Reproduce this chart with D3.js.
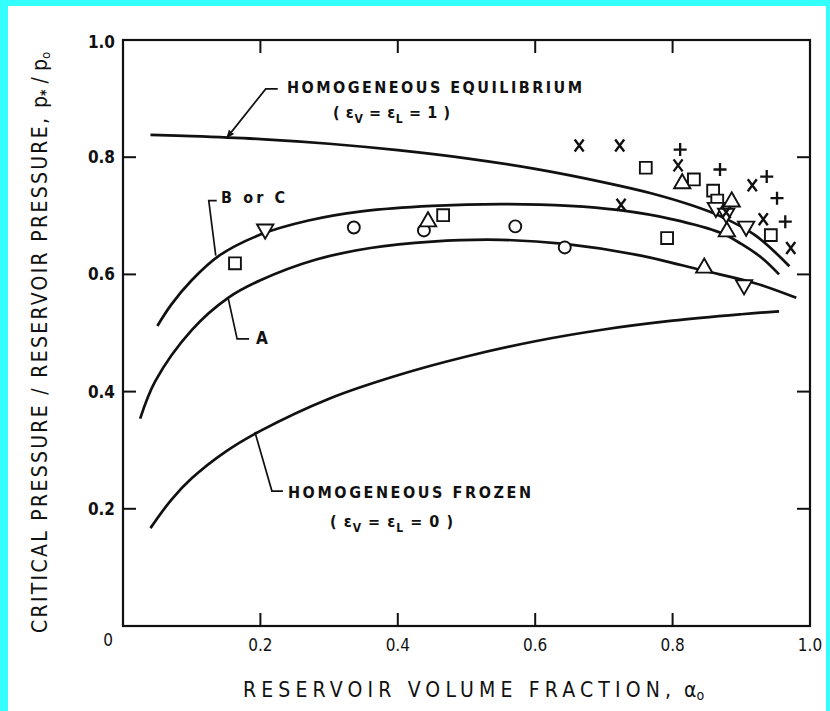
<!DOCTYPE html>
<html>
<head>
<meta charset="utf-8">
<script src="https://cdn.jsdelivr.net/npm/d3@7"></script>
<style>
  body { margin: 0; background: #33ffff; }
  svg { display: block; }
  text { font-family: "Liberation Sans Narrow", "DejaVu Sans Condensed", "DejaVu Sans", sans-serif; fill: #111; }
</style>
</head>
<body>
<div id="chart"></div>
<script>
// curves (alpha_o, p*/p_o)
var eqAlpha = [0.04, 0.1, 0.2, 0.3, 0.4, 0.5, 0.6, 0.7, 0.77, 0.83, 0.87, 0.92, 0.97];
var eqP     = [0.838, 0.836, 0.831, 0.823, 0.812, 0.798, 0.780, 0.757, 0.738, 0.717, 0.699, 0.667, 0.614];

var bcAlpha = [0.05, 0.07, 0.1, 0.14, 0.2, 0.27, 0.35, 0.45, 0.55, 0.65, 0.72, 0.8, 0.87, 0.9, 0.93, 0.955];
var bcP     = [0.512, 0.548, 0.59, 0.632, 0.668, 0.692, 0.708, 0.717, 0.72, 0.717, 0.71, 0.694, 0.671, 0.652, 0.628, 0.60];

var aAlpha = [0.025, 0.047, 0.1, 0.153, 0.2, 0.28, 0.36, 0.45, 0.55, 0.643, 0.75, 0.843, 0.92, 0.98];
var aP     = [0.354, 0.418, 0.505, 0.56, 0.59, 0.625, 0.645, 0.656, 0.659, 0.652, 0.633, 0.607, 0.585, 0.56];

var frAlpha = [0.04, 0.07, 0.1, 0.15, 0.2, 0.3, 0.4, 0.5, 0.6, 0.7, 0.8, 0.9, 0.955];
var frP     = [0.167, 0.215, 0.252, 0.298, 0.333, 0.388, 0.428, 0.460, 0.486, 0.506, 0.521, 0.532, 0.537];

// experimental points
var squares = [[0.163, 0.619], [0.466, 0.701], [0.761, 0.782], [0.831, 0.762], [0.859, 0.743],
               [0.792, 0.662], [0.943, 0.667], [0.865, 0.726]];
var circles = [[0.336, 0.680], [0.438, 0.675], [0.571, 0.682], [0.643, 0.646]];
var upTris  = [[0.444, 0.690], [0.814, 0.755], [0.886, 0.724], [0.879, 0.673], [0.846, 0.611]];
var downTris = [[0.207, 0.677], [0.863, 0.714], [0.878, 0.704], [0.907, 0.682], [0.904, 0.582]];
var crosses = [[0.664, 0.820], [0.723, 0.820], [0.808, 0.786], [0.725, 0.719], [0.916, 0.752],
               [0.932, 0.694], [0.972, 0.645], [0.878, 0.706]];
var pluses  = [[0.811, 0.813], [0.869, 0.779], [0.937, 0.767], [0.952, 0.730], [0.964, 0.690]];

var xTicks = [0, 0.2, 0.4, 0.6, 0.8, 1.0];
var xTickLabels = ["0", "0.2", "0.4", "0.6", "0.8", "1.0"];
var yTicks = [0.2, 0.4, 0.6, 0.8, 1.0];
var yTickLabels = ["0.2", "0.4", "0.6", "0.8", "1.0"];

var width = 830, height = 711;
var ink = "#111";

var svg = d3.select("#chart").append("svg")
    .attr("width", width)
    .attr("height", height);

svg.append("rect")
    .attr("x", 8).attr("y", 6)
    .attr("width", 818).attr("height", 705)
    .attr("fill", "#fff");

var x = d3.scaleLinear().domain([0, 1]).range([123, 810]);
var y = d3.scaleLinear().domain([0, 1]).range([626, 40]);

// frame
svg.append("rect")
    .attr("x", x(0)).attr("y", y(1))
    .attr("width", x(1) - x(0)).attr("height", y(0) - y(1))
    .attr("fill", "none")
    .attr("stroke", ink)
    .attr("stroke-width", 2.2);

// inward ticks on all four sides
var inner = [0.2, 0.4, 0.6, 0.8];
var tk = svg.append("g").attr("stroke", ink).attr("stroke-width", 2);
inner.forEach(function(v) {
    tk.append("line").attr("x1", x(v)).attr("x2", x(v)).attr("y1", y(0)).attr("y2", y(0) - 13);
    tk.append("line").attr("x1", x(v)).attr("x2", x(v)).attr("y1", y(1)).attr("y2", y(1) + 13);
    tk.append("line").attr("y1", y(v)).attr("y2", y(v)).attr("x1", x(0)).attr("x2", x(0) + 13);
    tk.append("line").attr("y1", y(v)).attr("y2", y(v)).attr("x1", x(1)).attr("x2", x(1) - 13);
});

// tick labels
svg.selectAll(".xlab")
    .data(xTicks)
    .enter()
    .append("text")
    .attr("class", "xlab")
    .attr("x", function(d, i) { return i == 0 ? x(d) - 15 : x(d); })
    .attr("y", function(d, i) { return i == 0 ? y(0) + 20 : y(0) + 25; })
    .attr("text-anchor", "middle")
    .attr("font-size", "17px")
    .text(function(d, i) { return xTickLabels[i]; });

svg.selectAll(".ylab")
    .data(yTicks)
    .enter()
    .append("text")
    .attr("class", "ylab")
    .attr("x", x(0) - 8)
    .attr("y", function(d) { return d == 1 ? y(d) + 8 : y(d) + 6; })
    .attr("text-anchor", "end")
    .attr("font-size", "17px")
    .attr("font-weight", "bold")
    .text(function(d, i) { return yTickLabels[i]; });

// curves
var line = d3.line()
    .x(function(d) { return x(d[0]); })
    .y(function(d) { return y(d[1]); })
    .curve(d3.curveCatmullRom);

function pairs(a, b) { return a.map(function(v, i) { return [v, b[i]]; }); }

[pairs(eqAlpha, eqP), pairs(bcAlpha, bcP), pairs(aAlpha, aP), pairs(frAlpha, frP)].forEach(function(c) {
    svg.append("path")
        .attr("d", line(c))
        .attr("fill", "none")
        .attr("stroke", ink)
        .attr("stroke-width", 2.7);
});

// markers
var pts = svg.append("g")
    .attr("fill", "#fff")
    .attr("stroke", ink)
    .attr("stroke-width", 1.9);

pts.selectAll(".sq").data(squares).enter().append("path")
    .attr("transform", function(d) { return "translate(" + x(d[0]) + "," + y(d[1]) + ")"; })
    .attr("d", d3.symbol().type(d3.symbolSquare).size(140));

pts.selectAll(".ci").data(circles).enter().append("circle")
    .attr("cx", function(d) { return x(d[0]); })
    .attr("cy", function(d) { return y(d[1]); })
    .attr("r", 6);

pts.selectAll(".ut").data(upTris).enter().append("path")
    .attr("transform", function(d) { return "translate(" + x(d[0]) + "," + y(d[1]) + ")"; })
    .attr("d", d3.symbol().type(d3.symbolTriangle).size(115));

pts.selectAll(".dt").data(downTris).enter().append("path")
    .attr("transform", function(d) { return "translate(" + x(d[0]) + "," + y(d[1]) + ") rotate(180)"; })
    .attr("d", d3.symbol().type(d3.symbolTriangle).size(115));

pts.selectAll(".cr").data(crosses).enter().append("path")
    .attr("transform", function(d) { return "translate(" + x(d[0]) + "," + y(d[1]) + ")"; })
    .attr("d", "M-4.5,-6L4.5,6M4.5,-6L-4.5,6")
    .attr("stroke-width", 2.4);

pts.selectAll(".pl").data(pluses).enter().append("path")
    .attr("transform", function(d) { return "translate(" + x(d[0]) + "," + y(d[1]) + ")"; })
    .attr("d", "M-6.5,0L6.5,0M0,-6.5L0,6.5")
    .attr("stroke-width", 2.3);

// curve labels with leader lines
var ann = svg.append("g");

svg.append("defs").append("marker")
    .attr("id", "tip")
    .attr("viewBox", "0 0 10 10")
    .attr("refX", 9).attr("refY", 5)
    .attr("markerWidth", 5).attr("markerHeight", 5)
    .attr("orient", "auto")
    .append("path")
    .attr("d", "M0,1L10,5L0,9Z")
    .attr("fill", ink);

function lead(path, tip) {
    var p = ann.append("path").attr("d", path)
        .attr("fill", "none")
        .attr("stroke", ink)
        .attr("stroke-width", 1.7);
    if (tip) p.attr("marker-end", "url(#tip)");
}

function subLabel(xp, yp, val, len) {
    var t = ann.append("text").attr("x", xp).attr("y", yp)
        .attr("font-size", "16px").attr("font-weight", "bold")
        .attr("textLength", len).attr("lengthAdjust", "spacing");
    t.append("tspan").text("( \u03b5");
    t.append("tspan").attr("dy", 5).attr("font-size", "12px").text("V");
    t.append("tspan").attr("dy", -5).text(" = \u03b5");
    t.append("tspan").attr("dy", 5).attr("font-size", "12px").text("L");
    t.append("tspan").attr("dy", -5).text(" = " + val + " )");
}

var eqAt = [0.151, 0.833];
lead("M" + (x(eqAt[0]) + 51) + "," + (y(eqAt[1]) - 49) + "h-12L" + x(eqAt[0]) + "," + y(eqAt[1]), true);
ann.append("text").attr("x", 287).attr("y", 93)
    .attr("font-size", "16px").attr("font-weight", "bold")
    .attr("textLength", 295).attr("lengthAdjust", "spacing")
    .text("HOMOGENEOUS EQUILIBRIUM");
subLabel(333, 118, "1", 117);

var bcAt = [0.135, 0.632];
lead("M" + x(bcAt[0]) + "," + y(bcAt[1]) + "L" + (x(bcAt[0]) - 7) + "," + (y(bcAt[1]) - 55) + "h8");
ann.append("text").attr("x", 221).attr("y", 203)
    .attr("font-size", "16px").attr("font-weight", "bold")
    .attr("textLength", 64).attr("lengthAdjust", "spacing")
    .text("B or C");

var aAt = [0.153, 0.56];
lead("M" + x(aAt[0]) + "," + y(aAt[1]) + "L" + (x(aAt[0]) + 9) + "," + (y(aAt[1]) + 41) + "h12");
ann.append("text").attr("x", 256).attr("y", 344)
    .attr("font-size", "17px").attr("font-weight", "bold")
    .text("A");

var frAt = [0.192, 0.331];
lead("M" + x(frAt[0]) + "," + y(frAt[1]) + "L" + (x(frAt[0]) + 17) + "," + (y(frAt[1]) + 59) + "h11");
ann.append("text").attr("x", 288).attr("y", 498)
    .attr("font-size", "16px").attr("font-weight", "bold")
    .attr("textLength", 243).attr("lengthAdjust", "spacing")
    .text("HOMOGENEOUS FROZEN");
subLabel(330, 527, "0", 123);

// axis titles
svg.append("text")
    .attr("x", 243).attr("y", 697)
    .attr("font-size", "21px")
    .attr("textLength", 428).attr("lengthAdjust", "spacing")
    .text("RESERVOIR VOLUME FRACTION,");
var xa = svg.append("text").attr("x", 684).attr("y", 697).attr("font-size", "21px");
xa.append("tspan").text("\u03b1");
xa.append("tspan").attr("dy", 3).attr("font-size", "14px").text("o");

var yt = svg.append("g").attr("transform", "translate(47,0) rotate(-90)");
yt.append("text")
    .attr("x", -633).attr("y", 0)
    .attr("font-size", "21px")
    .attr("textLength", 515).attr("lengthAdjust", "spacing")
    .text("CRITICAL PRESSURE / RESERVOIR PRESSURE,");
var yp = yt.append("text").attr("x", -108).attr("y", 0).attr("font-size", "21px");
yp.append("tspan").text("p");
yp.append("tspan").attr("dy", 3).attr("font-size", "14px").attr("font-weight", "bold").text("*");
yp.append("tspan").attr("dy", -3).text(" / p");
yp.append("tspan").attr("dy", 3).attr("font-size", "13px").text("o");
</script>
</body>
</html>
